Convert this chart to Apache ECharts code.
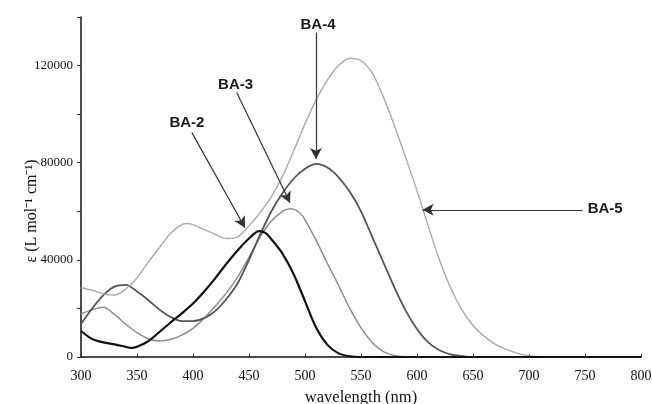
<!DOCTYPE html>
<html>
<head>
<meta charset="utf-8">
<script src="https://cdn.jsdelivr.net/npm/echarts@6/dist/echarts.min.js"></script>
<style>
html,body{margin:0;padding:0;background:#fff;}
#chart{width:652px;height:404px;}
</style>
</head>
<body>
<div id="chart"></div>
<script>
// ---- data ----
const xTicks = [300,350,400,450,500,550,600,650,700,750,800];
const yTickLabels = [0,40000,80000,120000];

const ba2Wavelength = [300,310,320,330,340,345,350,360,370,380,390,400,410,420,430,440,450,459,465,470,480,490,500,510,520,530,540,550,800];
const ba2Epsilon    = [10700,7400,6000,5200,4200,3700,4200,6500,10300,14200,18000,22000,27000,32500,38500,44000,48800,51800,51000,48500,42500,34000,23000,12000,5000,1500,300,0,0];

const ba3Wavelength = [300,310,320,330,340,350,360,370,380,390,400,410,420,430,440,450,460,470,480,487,495,500,510,520,530,540,550,560,570,580,590,600,800];
const ba3Epsilon    = [17700,19500,20500,17500,13500,10000,7500,6600,7200,9000,11800,16000,21000,26500,33000,41000,49500,56000,60000,61000,59500,56500,48000,38500,29500,20000,12000,6000,2200,600,100,0,0];

const ba4Wavelength = [300,310,320,330,340,350,360,370,380,390,400,410,420,430,440,450,460,470,480,490,500,510,520,530,540,550,560,570,580,590,600,610,620,630,640,650,800];
const ba4Epsilon    = [13600,20000,25500,29000,29700,27000,23500,19500,16500,14800,14800,16000,19000,24000,30500,40000,50500,60000,67500,73500,77500,79500,78000,74000,68000,60000,49500,39000,28500,19000,11500,6000,2800,1100,400,0,0];

const ba5Wavelength = [300,310,320,330,340,350,360,370,380,390,395,400,410,420,430,440,450,460,470,480,490,500,510,520,530,540,550,560,570,580,590,600,610,620,630,640,650,660,670,680,690,700,710,720,800];
const ba5Epsilon    = [28500,27500,26000,25500,28000,32500,39000,45000,51000,54500,55000,54500,52500,50500,48800,49500,54000,59500,66000,74500,85000,96000,106000,114000,120000,123000,122000,117000,107000,95000,82000,68500,54000,40000,28500,19500,13000,8500,5200,3000,1500,500,100,0,0];

// annotations (label position and arrow, in data units)
const annotations = [
  {name:'BA-2', label:[394.6,96500], from:[399,92400], to:[446.4,53200]},
  {name:'BA-3', label:[438,112200], from:[439,108900], to:[486.6,63500]},
  {name:'BA-4', label:[511.6,136900], from:[509.8,133600], to:[509.8,81500]},
  {name:'BA-5', label:[768,61000], from:[748,60600], to:[605,60600]}
];

function pairs(xs, ys){ return xs.map((x,i)=>[x, ys[i]]); }

const styles = {
  'BA-2': {color:'#111111', width:2.2},
  'BA-3': {color:'#8c8c8c', width:1.5},
  'BA-4': {color:'#555555', width:1.8},
  'BA-5': {color:'#ababab', width:1.4}
};
const dataMap = {
  'BA-2': pairs(ba2Wavelength, ba2Epsilon),
  'BA-3': pairs(ba3Wavelength, ba3Epsilon),
  'BA-4': pairs(ba4Wavelength, ba4Epsilon),
  'BA-5': pairs(ba5Wavelength, ba5Epsilon)
};

const series = annotations.map(a => ({
  name: a.name,
  type: 'line',
  data: dataMap[a.name],
  smooth: 0.3,
  showSymbol: false,
  symbol: 'none',
  z: a.name === 'BA-2' ? 5 : 3,
  lineStyle: {color: styles[a.name].color, width: styles[a.name].width},
  markLine: {
    silent: true,
    symbol: ['none','arrow'],
    symbolSize: [9, 11],
    label: {show:false},
    lineStyle: {color:'#333', width:1.2, type:'solid'},
    data: [[{coord:a.from}, {coord:a.to}]]
  },
  markPoint: {
    silent: true,
    symbol: 'rect',
    symbolSize: 1,
    itemStyle: {color:'rgba(0,0,0,0)'},
    label: {
      show: true, position: 'inside', formatter: a.name,
      color: '#1a1a1a', fontFamily: 'Liberation Sans, Arial, sans-serif',
      fontSize: 15, fontWeight: 'bold'
    },
    data: [{coord: a.label}]
  }
}));

const chart = echarts.init(document.getElementById('chart'), null, {renderer:'canvas'});
chart.setOption({
  animation: false,
  backgroundColor: '#ffffff',
  grid: {left:81, right:11, top:17, bottom:47, outerBoundsMode:'none', containLabel:false},
  graphic: [{
    type: 'text',
    x: 32, y: 211,
    rotation: Math.PI / 2,
    style: {
      text: 'ε (L mol⁻¹ cm⁻¹)',
      fontFamily: 'Liberation Serif, Times New Roman, serif',
      fontSize: 16,
      fill: '#111',
      align: 'center',
      verticalAlign: 'middle'
    }
  }],
  xAxis: {
    type: 'value', min: 300, max: 800, interval: 50,
    name: 'wavelength (nm)', nameLocation: 'middle', nameGap: 32,
    nameTextStyle: {fontFamily:'Liberation Serif, Times New Roman, serif', fontSize:16.5, color:'#111'},
    axisLine: {show:true, lineStyle:{color:'#111', width:1.5}},
    axisTick: {show:true, inside:true, length:3, lineStyle:{color:'#333'}},
    axisLabel: {
      color:'#111', fontFamily:'Liberation Serif, Times New Roman, serif', fontSize:14, margin:12,
      formatter: v => xTicks.includes(v) ? String(v) : ''
    },
    splitLine: {show:false}
  },
  yAxis: {
    type: 'value', min: 0, max: 140000, interval: 20000,
    axisLine: {show:true, lineStyle:{color:'#111', width:1.5}},
    axisTick: {show:true, inside:false, length:4, lineStyle:{color:'#333'}},
    axisLabel: {
      color:'#111', fontFamily:'Liberation Serif, Times New Roman, serif', fontSize:13, margin:8,
      formatter: v => yTickLabels.includes(v) ? String(v) : ''
    },
    splitLine: {show:false}
  },
  series: series
});
</script>
</body>
</html>
